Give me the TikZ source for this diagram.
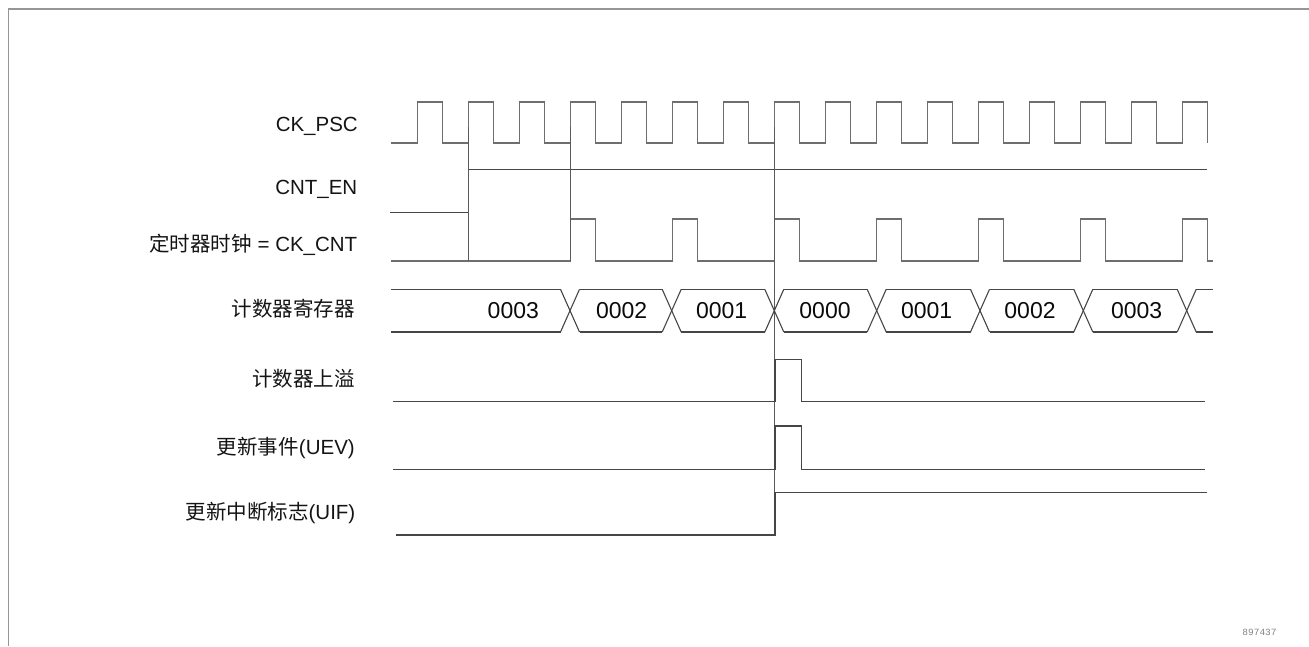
\documentclass[tikz,border=0pt]{standalone}
\usepackage{fontspec}
\setmainfont{Liberation Sans}
\newfontfamily\cjk{Noto Sans CJK SC}
\newfontfamily\wmfont{Liberation Mono}
\definecolor{framec}{RGB}{150,150,150}
\definecolor{sigc}{RGB}{70,70,70}
\definecolor{clkc}{RGB}{110,110,110}
\definecolor{markc}{RGB}{90,90,90}
\definecolor{lblc}{RGB}{20,20,20}
\definecolor{valc}{RGB}{10,10,10}
\definecolor{wmc}{RGB}{130,130,130}
\begin{document}
\begin{tikzpicture}[x=1pt,y=-1pt,
  sig/.style={draw=sigc,line width=1.1pt},
  clk/.style={draw=clkc,line width=1.1pt},
  marker/.style={draw=markc,line width=1pt},
  lbl/.style={anchor=east,inner sep=0pt,font=\fontsize{20.5}{24}\selectfont,text=lblc},
  val/.style={inner sep=0pt,font=\fontsize{23}{26}\selectfont,text=valc}]
\useasboundingbox (0,0) rectangle (1309,646);
% frame
\draw[framec,line width=1.6pt] (8.5,646) -- (8.5,9) -- (1309,9);
% labels
\node[lbl] (lpsc) at (358,126) {CK\_PSC};
\node[lbl] (len) at (357.5,189) {CNT\_EN};
\node[lbl] (lcnt) at (357.5,244.5) {{\cjk 定时器时钟} = CK\_CNT};
\node[lbl] (lreg) at (355,309) {\cjk 计数器寄存器};
\node[lbl] (lovf) at (355,379) {\cjk 计数器上溢};
\node[lbl] (luev) at (355,448) {{\cjk 更新事件}(UEV)};
\node[lbl] (luif) at (355.5,512.5) {{\cjk 更新中断标志}(UIF)};
% CK_PSC
\draw[clk] (391,143) \foreach \k in {0,...,15}{ -- ({417.3+51*\k},143) -- ++(0,-41) -- ++(25.5,0) -- ++(0,41) };
% CNT_EN
\draw[sig] (390,212.7) -- (468.3,212.7) -- (468.3,169.3) -- (1206.7,169.3);
% CK_CNT
\draw[clk] (391,261) \foreach \k in {3,5,...,15}{ -- ({417.3+51*\k},261) -- ++(0,-42) -- ++(25.5,0) -- ++(0,42) } -- (1213,261);
% marker lines
\draw[marker] (468.3,127) -- (468.3,261);
\draw[marker] (570,127) -- (570,261);
\draw[marker] (774.5,127) -- (774.5,535);
% counter register bus
\def\tp{289.3}\def\bt{332}\def\hw{9.5}
\draw[sig] (391,\tp) -- (570-\hw,\tp);
\draw[sig] (391,\bt) -- (570-\hw,\bt);
\foreach \a/\b in {570/671.7,671.7/774.3,774.3/876.7,876.7/980,980/1083.3,1083.3/1186.7}{
  \draw[sig] (\a+\hw,\tp) -- (\b-\hw,\tp);
  \draw[sig] (\a+\hw,\bt) -- (\b-\hw,\bt);
}
\foreach \c in {570,671.7,774.3,876.7,980,1083.3,1186.7}{
  \draw[sig] (\c-\hw,\tp) -- (\c+\hw,\bt);
  \draw[sig] (\c-\hw,\bt) -- (\c+\hw,\tp);
}
\draw[sig] (1186.7+\hw,\tp) -- (1213,\tp);
\draw[sig] (1186.7+\hw,\bt) -- (1213,\bt);
\node[val] (v1) at (513.3,310.7) {0003};
\node[val] (v2) at (621.7,310.7) {0002};
\node[val] (v3) at (721.7,310.7) {0001};
\node[val] (v4) at (825,310.7) {0000};
\node[val] (v5) at (926.7,310.7) {0001};
\node[val] (v6) at (1030,310.7) {0002};
\node[val] (v7) at (1136.7,310.7) {0003};
% overflow
\draw[sig] (393,401.7) -- (775,401.7) -- (775,359.3) -- (801.7,359.3) -- (801.7,401.7) -- (1205,401.7);
% UEV
\draw[sig] (393,469.3) -- (775,469.3) -- (775,426) -- (801.7,426) -- (801.7,469.3) -- (1205,469.3);
% UIF
\draw[sig] (396,535) -- (775,535) -- (775,492.7) -- (1207.3,492.7);
% watermark
\node[inner sep=0pt,font=\wmfont\fontsize{9.5}{10}\selectfont,text=wmc] (wm) at (1259.5,632) {897437};
\end{tikzpicture}
\end{document}
